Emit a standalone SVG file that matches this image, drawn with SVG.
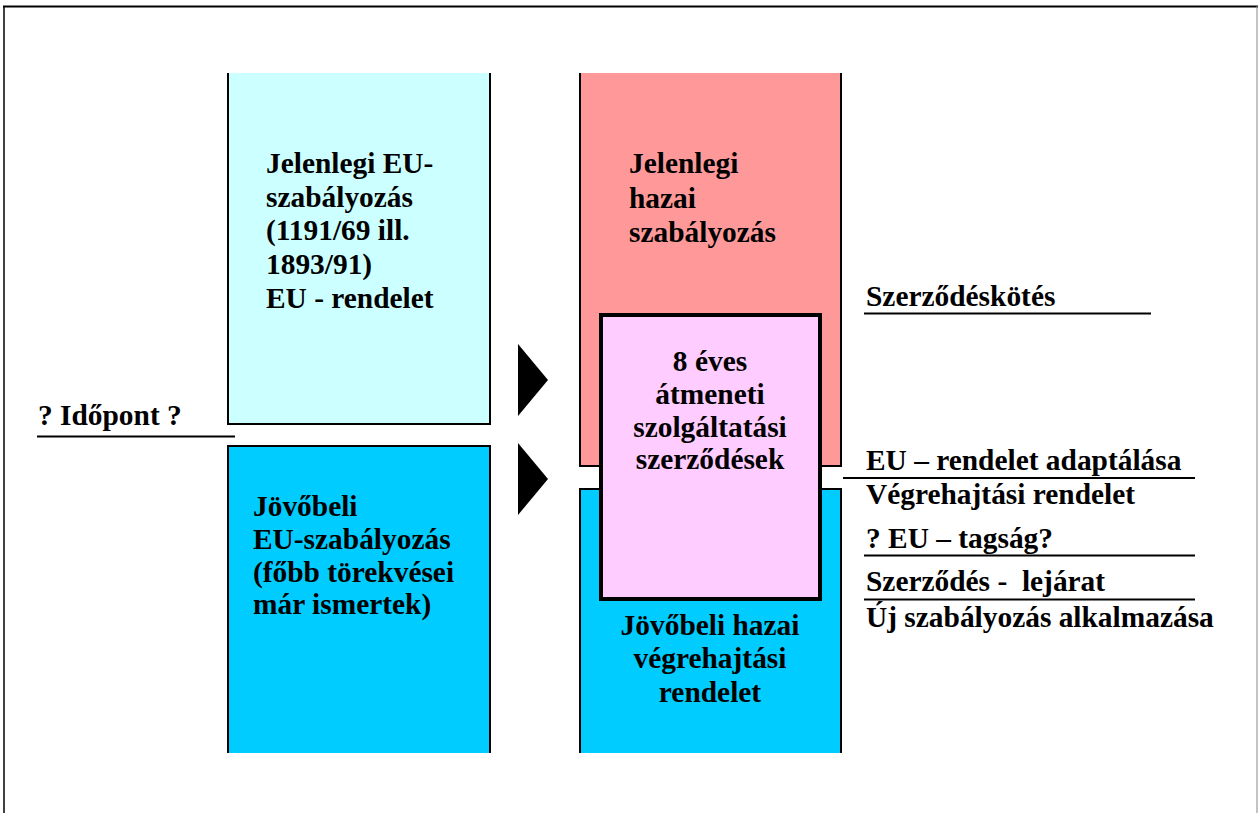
<svg xmlns="http://www.w3.org/2000/svg" width="1260" height="813" viewBox="0 0 1260 813">
  <style>
    text { font-family: "Liberation Serif", "Times New Roman", serif; font-weight: bold; font-size: 29.4px; fill: #000; }
    .mid { text-anchor: middle; }
    .rule { stroke: #000; stroke-width: 2; fill: none; }
    .edge { stroke: #000; stroke-width: 2; }
  </style>

  <rect width="1260" height="813" fill="#fff"/>

  <!-- outer frame -->
  <g id="frame">
    <line x1="3" y1="6.5" x2="1258" y2="6.5" stroke="#000" stroke-width="2"/>
    <line x1="4" y1="6" x2="4" y2="813" stroke="#000" stroke-width="1.5"/>
    <line x1="1257" y1="6" x2="1257" y2="813" stroke="#888" stroke-width="1"/>
  </g>

  <!-- current EU regulation (open at the top) -->
  <g id="eu-current">
    <rect x="228" y="73" width="262" height="351" fill="#CCFFFF"/>
    <polyline class="edge" fill="none" points="228,73 228,424 490,424 490,73"/>
    <text x="266" y="173">Jelenlegi EU-</text>
    <text x="266" y="207">szabályozás</text>
    <text x="266" y="240">(1191/69 ill.</text>
    <text x="266" y="274">1893/91)</text>
    <text x="266" y="308">EU - rendelet</text>
  </g>

  <!-- future EU regulation (open at the bottom) -->
  <g id="eu-future">
    <rect x="228" y="446" width="262" height="307" fill="#00CCFF"/>
    <polyline class="edge" fill="none" points="228,753 228,446 490,446 490,753"/>
    <text x="253" y="516">Jövőbeli</text>
    <text x="253" y="549">EU-szabályozás</text>
    <text x="253" y="582">(főbb törekvései</text>
    <text x="253" y="614">már ismertek)</text>
  </g>

  <!-- current domestic regulation -->
  <g id="hu-current">
    <rect x="580" y="73" width="261" height="393" fill="#FF9999"/>
    <polyline class="edge" fill="none" points="580,73 580,466 841,466 841,73"/>
    <text x="629" y="173">Jelenlegi</text>
    <text x="629" y="208">hazai</text>
    <text x="629" y="242">szabályozás</text>
  </g>

  <!-- future domestic implementing decree -->
  <g id="hu-future">
    <rect x="580" y="489" width="261" height="264" fill="#00CCFF"/>
    <polyline class="edge" fill="none" points="580,753 580,489 841,489 841,753"/>
    <text class="mid" x="710" y="635">Jövőbeli hazai</text>
    <text class="mid" x="710" y="668">végrehajtási</text>
    <text class="mid" x="710" y="702">rendelet</text>
  </g>

  <!-- 8-year transitional contracts -->
  <g id="contracts">
    <rect x="601" y="315" width="219" height="284" fill="#FFCCFF" stroke="#000" stroke-width="4"/>
    <text class="mid" x="710" y="371">8 éves</text>
    <text class="mid" x="710" y="404">átmeneti</text>
    <text class="mid" x="710" y="437">szolgáltatási</text>
    <text class="mid" x="710" y="469">szerződések</text>
  </g>

  <!-- transition arrows and timeline rules -->
  <g id="connectors">
    <polygon points="518,344 548,380 518,416" fill="#000"/>
    <polygon points="518,443 548,479 518,515" fill="#000"/>
    <line class="rule" x1="37" y1="436.5" x2="235" y2="436.5"/>
    <line class="rule" x1="864" y1="313.5" x2="1151" y2="313.5"/>
    <line class="rule" x1="843" y1="478" x2="1195" y2="478"/>
    <line class="rule" x1="864" y1="555.5" x2="1195" y2="555.5"/>
    <line class="rule" x1="864" y1="599.5" x2="1195" y2="599.5"/>
  </g>

  <!-- milestone labels -->
  <g id="milestones">
    <text x="38" y="425">? Időpont ?</text>
    <text x="866" y="306">Szerződéskötés</text>
    <text x="866" y="470">EU – rendelet adaptálása</text>
    <text x="866" y="504">Végrehajtási rendelet</text>
    <text x="866" y="548">? EU – tagság?</text>
    <text x="866" y="591" xml:space="preserve">Szerződés -  lejárat</text>
    <text x="866" y="627">Új szabályozás alkalmazása</text>
  </g>
</svg>
